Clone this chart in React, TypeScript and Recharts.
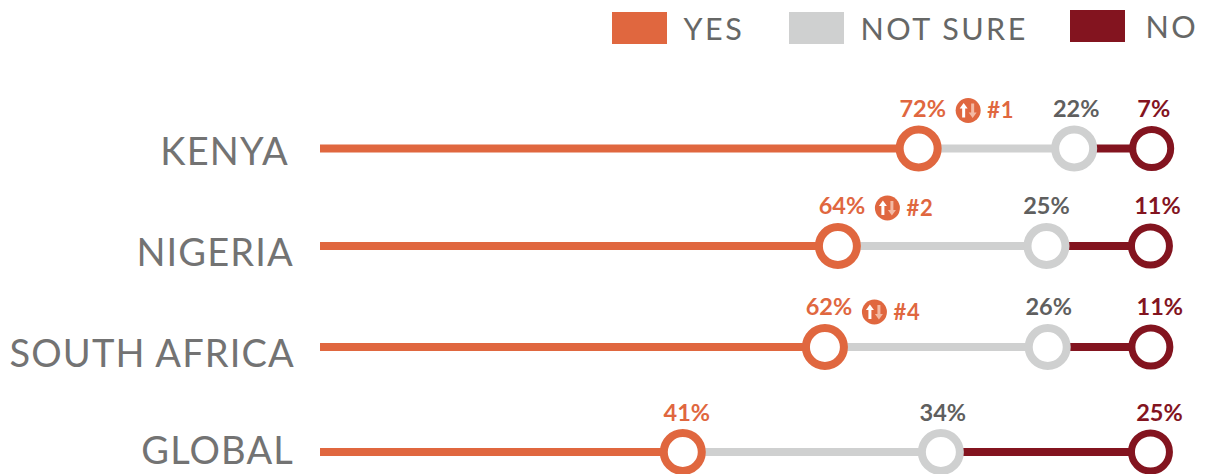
import React from "react";
import { ScatterChart, Scatter, XAxis, YAxis, Legend } from "recharts";

// Survey shares per country, in percent
const countries = ["KENYA", "NIGERIA", "SOUTH AFRICA", "GLOBAL"];
const yesShare = [72, 64, 62, 41];
const notSureShare = [22, 25, 26, 34];
const noShare = [7, 11, 11, 25];
const ranks = [1, 2, 4, null];

const rowPositions = [0, 97.5, 198.5, 303.5];

const ORANGE = "#E0673F";
const GREY = "#CFD0D0";
const MAROON = "#83141F";
const TEXT_GREY = "#666766";
const NAME_GREY = "#737373";
const LABEL_GREY = "#5F5F5F";
const FONT = "Lato, sans-serif";

// The running total is spread unevenly along the track
const trackStops = [
  [0, 0], [41, 43.62], [62, 60.71], [64, 62.27], [72, 71.98], [75, 74.65],
  [88, 87.5], [89, 87.35], [94, 90.68], [99, 99.9], [100, 99.85], [101, 100],
];

function trackScale() {
  let dom = [0, 101];
  let rng = [0, 1];
  const place = (v: number) => {
    let pct = 100;
    for (let i = 1; i < trackStops.length; i++) {
      const [a, pa] = trackStops[i - 1];
      const [b, pb] = trackStops[i];
      if (v <= b) {
        pct = pa + ((v - a) / (b - a)) * (pb - pa);
        break;
      }
    }
    return rng[0] + ((rng[1] - rng[0]) * pct) / 100;
  };
  const s: any = (v: number) => place(v);
  s.domain = (d?: number[]) => { if (!d) return dom; dom = d; return s; };
  s.range = (r?: number[]) => { if (!r) return rng; rng = r; return s; };
  s.ticks = () => [0, 100];
  s.tickFormat = () => String;
  s.copy = () => {
    const c = trackScale();
    c.domain(dom); c.range(rng);
    return c;
  };
  return s;
}
const xScale = trackScale();

const rows = countries.map((country, i) => {
  const y = rowPositions[i];
  const yesEnd = yesShare[i];
  const notSureEnd = yesEnd + notSureShare[i];
  const noEnd = notSureEnd + noShare[i];
  return { country, y, rank: ranks[i], yesEnd, notSureEnd, noEnd, i };
});

const yesPoints = rows.map((r) => ({ x: r.yesEnd, y: r.y, value: yesShare[r.i], rank: r.rank, row: r.i }));
const notSurePoints = rows.map((r) => ({ x: r.notSureEnd, y: r.y, value: notSureShare[r.i], row: r.i }));
const noPoints = rows.map((r) => ({ x: r.noEnd, y: r.y, value: noShare[r.i], row: r.i }));

const legendItems = [
  { name: "YES", color: ORANGE, box: [612, 12], text: [683.5, 28] },
  { name: "NOT SURE", color: GREY, box: [789, 12], text: [860.5, 28] },
  { name: "NO", color: MAROON, box: [1070, 10], text: [1145.5, 26] },
];

const labelRise = [40, 40, 40, 39];
const badgeDy = [0, 0, 3, 0];
const nameDy = [3, 7, 7, -1];
const nameRight = [289, 294, 295, 294];

function RankBadge({ x, y, rank }: { x: number; y: number; rank: number }) {
  return (
    <g transform={`translate(${x},${y})`}>
      <circle r={12.5} fill={ORANGE} />
      <path d="M-4.5,-7.5 L-8.5,-2 L-6,-2 L-6,7 L-3,7 L-3,-2 L-0.5,-2 Z" fill="#fff" />
      <path d="M4.5,7.5 L8.5,2 L6,2 L6,-7 L3,-7 L3,2 L0.5,2 Z" fill="#F3B9A3" />
      <text x={19} y={7.5} fontFamily={FONT} fontWeight={700} fontSize={22} fill={ORANGE} letterSpacing={0.8}>
        #{rank}
      </text>
    </g>
  );
}

function ringShape(color: string, labelColor: string, labelDx: number[], strokeWidth: number) {
  return (props: any) => {
    const { cx, cy, payload } = props;
    return (
      <g>
        <circle cx={cx} cy={cy} r={19} fill="#fff" stroke={color} strokeWidth={strokeWidth} />
        <text
          x={cx + labelDx[payload.row]}
          y={cy - labelRise[payload.row] + 8}
          textAnchor="middle"
          fontFamily={FONT}
          fontWeight={700}
          fontSize={23.5}
          fill={labelColor}
        >
          {payload.value}%
        </text>
        {payload.rank != null && (
          <RankBadge x={cx + 49.5} y={cy - 38 + badgeDy[payload.row]} rank={payload.rank} />
        )}
      </g>
    );
  };
}

const noMark = () => null;

function CountryTick(props: any) {
  const { y, index } = props;
  return (
    <text
      x={nameRight[index]}
      y={y + nameDy[index] + 13}
      textAnchor="end"
      fontFamily={FONT}
      fontSize={38}
      fill={NAME_GREY}
      letterSpacing={1.15}
    >
      {countries[index]}
    </text>
  );
}

function LegendBlock() {
  return (
    <div style={{ position: "absolute", left: 0, top: 0, width: 0, height: 0 }}>
      {legendItems.map((item) => (
        <React.Fragment key={item.name}>
          <div
            style={{
              position: "absolute",
              left: item.box[0],
              top: item.box[1],
              width: 55,
              height: 32,
              background: item.color,
            }}
          />
          <div
            style={{
              position: "absolute",
              left: item.text[0],
              top: item.text[1] - 20,
              lineHeight: "40px",
              whiteSpace: "nowrap",
              fontFamily: FONT,
              fontSize: 30.5,
              letterSpacing: 2.5,
              color: TEXT_GREY,
            }}
          >
            {item.name}
          </div>
        </React.Fragment>
      ))}
    </div>
  );
}

export default function App() {
  return (
    <div style={{ position: "absolute", left: 0, top: 0, width: 1207, height: 474, overflow: "hidden", background: "#fff" }}>
      <ScatterChart width={1207} height={474} margin={{ top: 148.5, right: 55.3, bottom: 22, left: 0 }}>
        <XAxis type="number" dataKey="x" domain={[0, 101]} scale={xScale} hide />
        <YAxis
          type="number"
          dataKey="y"
          domain={[0, 303.5]}
          reversed
          ticks={rowPositions}
          interval={0}
          width={320}
          axisLine={false}
          tickLine={false}
          tick={<CountryTick />}
        />
        <Legend height={0} wrapperStyle={{ left: 0, top: 0, width: 0, height: 0 }} content={<LegendBlock />} />
        {rows.map((r) => (
          <Scatter
            key={`yes-${r.i}`}
            data={[{ x: 0, y: r.y }, { x: r.yesEnd, y: r.y }]}
            line={{ stroke: ORANGE, strokeWidth: 8 }}
            shape={noMark}
            legendType="none"
            isAnimationActive={false}
          />
        ))}
        {rows.map((r) => (
          <Scatter
            key={`unsure-${r.i}`}
            data={[{ x: r.yesEnd, y: r.y }, { x: r.notSureEnd, y: r.y }]}
            line={{ stroke: GREY, strokeWidth: 8 }}
            shape={noMark}
            legendType="none"
            isAnimationActive={false}
          />
        ))}
        {rows.map((r) => (
          <Scatter
            key={`no-${r.i}`}
            data={[{ x: r.notSureEnd, y: r.y }, { x: r.noEnd, y: r.y }]}
            line={{ stroke: MAROON, strokeWidth: 8 }}
            shape={noMark}
            legendType="none"
            isAnimationActive={false}
          />
        ))}
        <Scatter name="YES" data={yesPoints} fill={ORANGE} shape={ringShape(ORANGE, ORANGE, [4, 4, 4, 4], 8)} isAnimationActive={false} />
        <Scatter name="NOT SURE" data={notSurePoints} fill={GREY} shape={ringShape(GREY, LABEL_GREY, [2, 0, 1, 2], 8)} isAnimationActive={false} />
        <Scatter name="NO" data={noPoints} fill={MAROON} shape={ringShape(MAROON, MAROON, [2, 7, 9, 9], 7)} isAnimationActive={false} />
      </ScatterChart>
    </div>
  );
}
